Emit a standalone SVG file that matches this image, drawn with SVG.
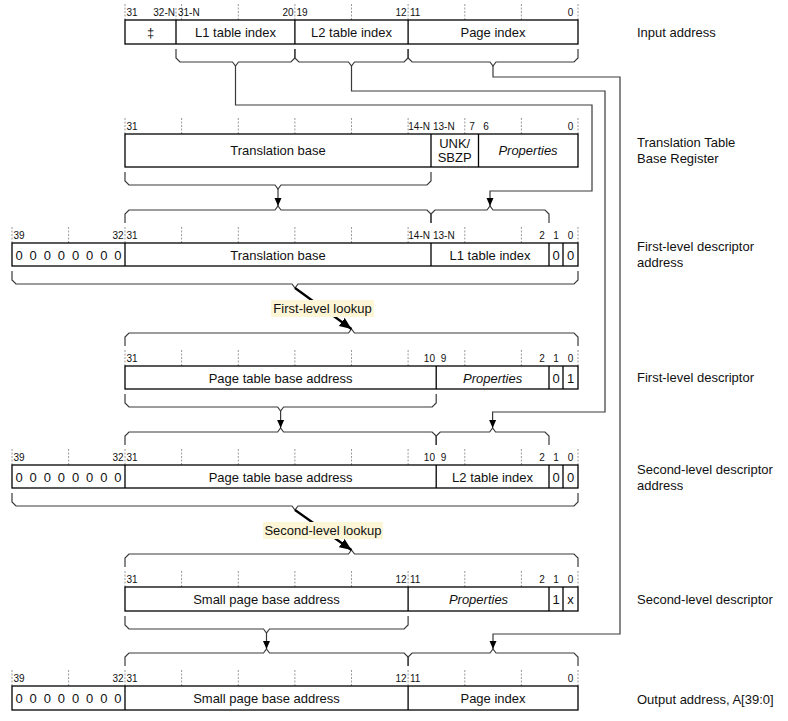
<svg xmlns="http://www.w3.org/2000/svg" width="788" height="721" viewBox="0 0 788 721">
<style>
text{font-family:"Liberation Sans",Arial,sans-serif;fill:#111}
.t{font-size:13px}
.c{text-anchor:middle}
.e{text-anchor:end}
.i{font-style:italic}
.b{font-size:10px}
.z{font-size:13px;text-anchor:middle;word-spacing:3.3px}
.box{fill:#fff;stroke:#000;stroke-width:1.3}
.div{stroke:#000;stroke-width:1.3;fill:none}
.tick{stroke:#9a9a9a;stroke-width:1;stroke-dasharray:2 1.5;fill:none}
.br{fill:none;stroke:#3a3a3a;stroke-width:1.2}
.cn{fill:none;stroke:#3a3a3a;stroke-width:1.2;marker-end:url(#ah)}
.lk{fill:none;stroke:#000;stroke-width:2.2;marker-end:url(#ahl)}
.lbl{fill:#fdf6d6}
</style>
<defs>
<marker id="ah" markerUnits="userSpaceOnUse" markerWidth="8" markerHeight="8" refX="8" refY="4" orient="auto"><path d="M0,0.5 L8,4 L0,7.5 z" fill="#000"/></marker>
<marker id="ahl" markerUnits="userSpaceOnUse" markerWidth="13" markerHeight="11" refX="12" refY="5" orient="auto"><path d="M0,0 L12,5 L0,10 z" fill="#000"/></marker>
</defs>
<rect width="788" height="721" fill="#fff"/>

<g id="connectors">
<path class="br" d="M176 49V58L180 62H232.5L235.5 66L238.5 62H290.9L294.9 58V49"/>
<path class="br" d="M294.9 49V58L298.9 62H348.5L351.5 66L354.5 62H404.1L408.1 58V49"/>
<path class="br" d="M408.1 49V58L412.1 62H490L493 66L496 62H574L578 58V49"/>
<path class="br" d="M125 172V181L129 185H275L278 189L281 185H427L431 181V172"/>
<path class="br" d="M125 223V214L129 210H275L278 206L281 210H427L431 214V223"/>
<path class="br" d="M431 223V214L435 210H487L490 206L493 210H545L549 214V223"/>
<path class="br" d="M12 271V280L16 284H292L295 288L298 284H574L578 280V271"/>
<path class="br" d="M125 346V337L129 333H348.5L351.5 329L354.5 333H574L578 337V346"/>
<path class="br" d="M125 394V403L129 407H277.6L280.6 411L283.6 407H432.2L436.2 403V394"/>
<path class="br" d="M125 445V436L129 432H277.6L280.6 428L283.6 432H432.2L436.2 436V445"/>
<path class="br" d="M436.2 445V436L440.2 432H489.6L492.6 428L495.6 432H545L549 436V445"/>
<path class="br" d="M12 493V502L16 506H292L295 510L298 506H574L578 502V493"/>
<path class="br" d="M125 567V558L129 554H348.5L351.5 550L354.5 554H574L578 558V567"/>
<path class="br" d="M125 616V625L129 629H263.5L266.5 633L269.5 629H404.1L408.1 625V616"/>
<path class="br" d="M125 666V657L129 653H263.5L266.5 649L269.5 653H404.1L408.1 657V666"/>
<path class="br" d="M408.1 666V657L412.1 653H490L493 649L496 653H574L578 657V666"/>
<path class="cn" d="M278 189V206"/>
<path class="cn" d="M235.5 66V105H592V191H490V206"/>
<path class="cn" d="M351.5 66V91H605V412H492.6V428"/>
<path class="cn" d="M493 66V77H620V634H493V649"/>
<path class="cn" d="M280.6 411V428"/>
<path class="cn" d="M266.5 633V649"/>
<path class="lk" d="M295 288L351.5 329"/>
<path class="lk" d="M295 510L351.5 550"/>
<rect class="lbl" x="271" y="300" width="103" height="17"/>
<text class="t c" x="322.5" y="313">First-level lookup</text>
<rect class="lbl" x="263" y="522" width="120" height="17"/>
<text class="t c" x="323" y="535">Second-level lookup</text>
</g>

<g id="input-address">
<path class="tick" d="M125 4V20M176 8V20M181.6 4V20M238.3 4V20M294.9 4V20M351.5 4V20M408.1 4V20M464.8 4V20M521.4 4V20M578 4V20"/>
<text class="b c" x="132" y="16">31</text>
<text class="b e" x="175" y="16">32-N</text>
<text class="b" x="178" y="16">31-N</text>
<text class="b c" x="288" y="16">20</text>
<text class="b c" x="302" y="16">19</text>
<text class="b c" x="401" y="16">12</text>
<text class="b c" x="415.2" y="16">11</text>
<text class="b c" x="570.5" y="16">0</text>
<rect class="box" x="125" y="20" width="453" height="24"/>
<path class="div" d="M176 20V44M294.9 20V44M408.1 20V44"/>
<text class="t c" x="150.5" y="36.5">‡</text>
<text class="t c" x="235.5" y="36.5">L1 table index</text>
<text class="t c" x="351.5" y="36.5">L2 table index</text>
<text class="t c" x="493" y="36.5">Page index</text>
<text class="t" x="637" y="37">Input address</text>
</g>

<g id="ttbr">
<path class="tick" d="M125 118V134M181.6 118V134M238.3 118V134M294.9 118V134M351.5 118V134M408.1 118V134M464.8 118V134M521.4 118V134M578 118V134"/>
<text class="b c" x="132" y="130">31</text>
<text class="b e" x="430" y="130">14-N</text>
<text class="b" x="433" y="130">13-N</text>
<text class="b c" x="472" y="130">7</text>
<text class="b c" x="486" y="130">6</text>
<text class="b c" x="570.5" y="130">0</text>
<rect class="box" x="125" y="134" width="453" height="33"/>
<path class="div" d="M431 134V167M478.5 134V167"/>
<text class="t c" x="278" y="155">Translation base</text>
<text class="t c" x="454.7" y="148">UNK/</text>
<text class="t c" x="454.7" y="162">SBZP</text>
<text class="t c i" x="528" y="155">Properties</text>
<text class="t" x="637" y="147">Translation Table</text>
<text class="t" x="637" y="163">Base Register</text>
</g>

<g id="first-level-descriptor-address">
<path class="tick" d="M12 227V243M68.6 227V243M125 227V243M181.6 227V243M238.3 227V243M294.9 227V243M351.5 227V243M408.1 227V243M464.8 227V243M521.4 227V243M578 227V243"/>
<text class="b c" x="19" y="239">39</text>
<text class="b c" x="118" y="239">32</text>
<text class="b c" x="132" y="239">31</text>
<text class="b e" x="430" y="239">14-N</text>
<text class="b" x="433" y="239">13-N</text>
<text class="b c" x="542" y="239">2</text>
<text class="b c" x="556" y="239">1</text>
<text class="b c" x="570.5" y="239">0</text>
<rect class="box" x="12" y="243" width="566" height="23"/>
<path class="div" d="M125 243V266M431 243V266M549 243V266M563 243V266"/>
<text class="z" x="68.5" y="259.5">0 0 0 0 0 0 0 0</text>
<text class="t c" x="278" y="259.5">Translation base</text>
<text class="t c" x="490" y="259.5">L1 table index</text>
<text class="t c" x="556" y="259.5">0</text>
<text class="t c" x="570.5" y="259.5">0</text>
<text class="t" x="637" y="251">First-level descriptor</text>
<text class="t" x="637" y="267">address</text>
</g>

<g id="first-level-descriptor">
<path class="tick" d="M125 350V366M181.6 350V366M238.3 350V366M294.9 350V366M351.5 350V366M408.1 350V366M464.8 350V366M521.4 350V366M578 350V366"/>
<text class="b c" x="132" y="362">31</text>
<text class="b c" x="429.4" y="362">10</text>
<text class="b c" x="443.5" y="362">9</text>
<text class="b c" x="542" y="362">2</text>
<text class="b c" x="556" y="362">1</text>
<text class="b c" x="570.5" y="362">0</text>
<rect class="box" x="125" y="366" width="453" height="23"/>
<path class="div" d="M436.2 366V389M549 366V389M563 366V389"/>
<text class="t c" x="280.6" y="382.5">Page table base address</text>
<text class="t c i" x="492.6" y="382.5">Properties</text>
<text class="t c" x="556" y="382.5">0</text>
<text class="t c" x="570.5" y="382.5">1</text>
<text class="t" x="637" y="382">First-level descriptor</text>
</g>

<g id="second-level-descriptor-address">
<path class="tick" d="M12 449V465M68.6 449V465M125 449V465M181.6 449V465M238.3 449V465M294.9 449V465M351.5 449V465M408.1 449V465M464.8 449V465M521.4 449V465M578 449V465"/>
<text class="b c" x="19" y="461">39</text>
<text class="b c" x="118" y="461">32</text>
<text class="b c" x="132" y="461">31</text>
<text class="b c" x="429.4" y="461">10</text>
<text class="b c" x="443.5" y="461">9</text>
<text class="b c" x="542" y="461">2</text>
<text class="b c" x="556" y="461">1</text>
<text class="b c" x="570.5" y="461">0</text>
<rect class="box" x="12" y="465" width="566" height="23"/>
<path class="div" d="M125 465V488M436.2 465V488M549 465V488M563 465V488"/>
<text class="z" x="68.5" y="481.5">0 0 0 0 0 0 0 0</text>
<text class="t c" x="280.6" y="481.5">Page table base address</text>
<text class="t c" x="492.6" y="481.5">L2 table index</text>
<text class="t c" x="556" y="481.5">0</text>
<text class="t c" x="570.5" y="481.5">0</text>
<text class="t" x="637" y="474">Second-level descriptor</text>
<text class="t" x="637" y="490">address</text>
</g>

<g id="second-level-descriptor">
<path class="tick" d="M125 571V587M181.6 571V587M238.3 571V587M294.9 571V587M351.5 571V587M408.1 571V587M464.8 571V587M521.4 571V587M578 571V587"/>
<text class="b c" x="132" y="583">31</text>
<text class="b c" x="401" y="583">12</text>
<text class="b c" x="415.2" y="583">11</text>
<text class="b c" x="542" y="583">2</text>
<text class="b c" x="556" y="583">1</text>
<text class="b c" x="570.5" y="583">0</text>
<rect class="box" x="125" y="587" width="453" height="24"/>
<path class="div" d="M408.1 587V611M549 587V611M563 587V611"/>
<text class="t c" x="266.5" y="603.5">Small page base address</text>
<text class="t c i" x="478.5" y="603.5">Properties</text>
<text class="t c" x="556" y="603.5">1</text>
<text class="t c" x="570.5" y="603.5">x</text>
<text class="t" x="637" y="604">Second-level descriptor</text>
</g>

<g id="output-address">
<path class="tick" d="M12 670V686M68.6 670V686M125 670V686M181.6 670V686M238.3 670V686M294.9 670V686M351.5 670V686M408.1 670V686M464.8 670V686M521.4 670V686M578 670V686"/>
<text class="b c" x="19" y="682">39</text>
<text class="b c" x="118" y="682">32</text>
<text class="b c" x="132" y="682">31</text>
<text class="b c" x="401" y="682">12</text>
<text class="b c" x="415.2" y="682">11</text>
<text class="b c" x="570.5" y="682">0</text>
<rect class="box" x="12" y="686" width="566" height="24"/>
<path class="div" d="M125 686V710M408.1 686V710"/>
<text class="z" x="68.5" y="702.5">0 0 0 0 0 0 0 0</text>
<text class="t c" x="266.5" y="702.5">Small page base address</text>
<text class="t c" x="493" y="702.5">Page index</text>
<text class="t" x="637" y="704">Output address, A[39:0]</text>
</g>
</svg>
